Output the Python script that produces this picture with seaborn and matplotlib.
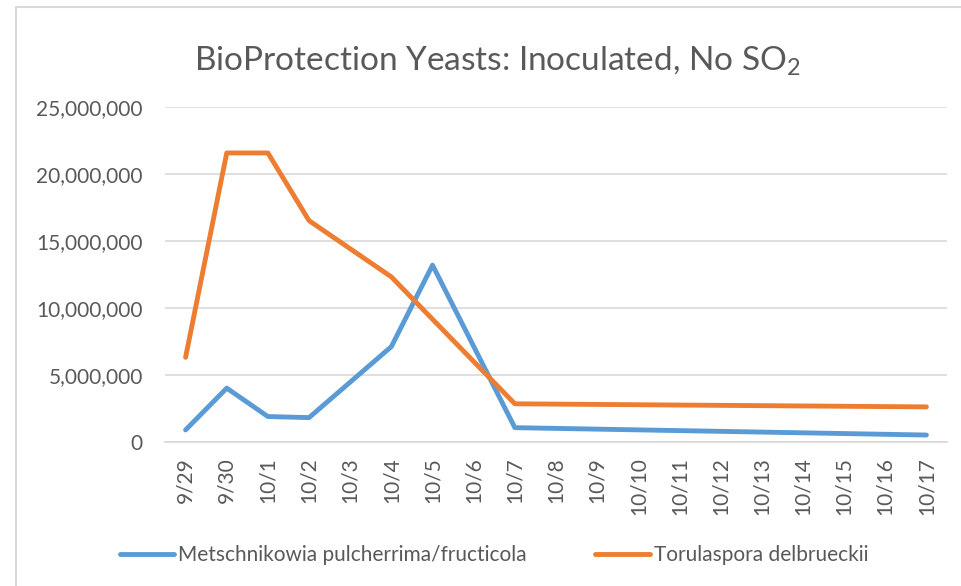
import matplotlib
matplotlib.use("Agg")
import numpy as np
import pandas as pd
import matplotlib.pyplot as plt
import seaborn as sns
from matplotlib.lines import Line2D
from matplotlib.ticker import FuncFormatter, FixedLocator

# sample days (x categories)
dates = ["9/29", "9/30", "10/1", "10/2", "10/3", "10/4", "10/5", "10/6", "10/7",
         "10/8", "10/9", "10/10", "10/11", "10/12", "10/13", "10/14", "10/15",
         "10/16", "10/17"]
nan = np.nan
# cell counts, blank days left as NaN (Excel connects across gaps)
metschnikowia = [900000, 4020000, 1900000, 1820000, nan, 7120000, 13200000, nan, 1070000,
                 nan, nan, nan, nan, nan, nan, nan, nan, nan, 520000]
torulaspora = [6320000, 21570000, 21570000, 16520000, nan, 12320000, nan, nan, 2850000,
               nan, nan, nan, nan, nan, nan, nan, nan, nan, 2620000]
series_names = ["Metschnikowia pulcherrima/fructicola", "Torulaspora delbrueckii"]
colors = ["#5B9BD5", "#ED7D31"]

GREY = "#D9D9D9"
TXT = "#595959"

sns.set_style("white")
plt.rcParams["font.family"] = ["Lato", "DejaVu Sans"]

rows = []
for name, vals in zip(series_names, [metschnikowia, torulaspora]):
    for i, (d, v) in enumerate(zip(dates, vals)):
        rows.append({"pos": i, "date": d, "count": v, "species": name})
df = pd.DataFrame(rows).dropna()

fig = plt.figure(figsize=(9.62, 5.86), dpi=100)
ax = fig.add_axes([165 / 962, 1 - 442 / 586, 782 / 962, 335 / 586])

sns.lineplot(data=df, x="pos", y="count", hue="species", hue_order=series_names,
             palette=colors, linewidth=3.5, solid_capstyle="round",
             solid_joinstyle="round", ax=ax)

ax.set_xlim(-0.5, len(dates) - 0.5)
ax.set_ylim(0, 25000000)
ax.set_yticks(np.arange(0, 25000001, 5000000))
ax.yaxis.set_major_formatter(FuncFormatter(lambda v, p: f"{int(v):,}"))
ax.set_xticks(range(len(dates)))
ax.set_xticklabels(dates, rotation=90)
ax.xaxis.set_minor_locator(FixedLocator(np.arange(-0.5, len(dates), 1)))
ax.set_xlabel("")
ax.set_ylabel("")

ax.grid(axis="y", color=GREY, linewidth=1.2)
ax.set_axisbelow(True)
for s in ["top", "right", "left"]:
    ax.spines[s].set_visible(False)
ax.spines["bottom"].set_color(GREY)
ax.spines["bottom"].set_linewidth(1.2)
ax.tick_params(axis="x", which="major", length=0, pad=11, labelsize=15, labelcolor=TXT)
ax.tick_params(axis="x", which="minor", length=5, color=GREY, width=1.2)
ax.tick_params(axis="y", length=0, pad=16, labelsize=15, labelcolor=TXT)

fig.text(497 / 962, 1 - 61 / 586, r"BioProtection Yeasts: Inoculated, No $\mathregular{SO_2}$",
         ha="center", va="center", fontsize=24, color=TXT)

leg = ax.get_legend()
handles = leg.legend_handles
labels = [t.get_text() for t in leg.texts]
leg.remove()
for h in handles:
    h.set_linewidth(3.5)
fig.legend(handles, labels, loc="center", bbox_to_anchor=(494 / 962, 1 - 555 / 586),
           ncol=2, frameon=False, fontsize=15, labelcolor=TXT, handlelength=2.6,
           handletextpad=0.2, columnspacing=3.3)

# chart area border (only left and top visible in the crop)
fig.add_artist(Line2D([16 / 962, 16 / 962], [0, 1 - 7 / 586], transform=fig.transFigure,
                      color=GREY, linewidth=1.5))
fig.add_artist(Line2D([16 / 962, 1], [1 - 7 / 586, 1 - 7 / 586], transform=fig.transFigure,
                      color=GREY, linewidth=1.5))

fig.savefig("out.png", dpi=100, facecolor="white")
